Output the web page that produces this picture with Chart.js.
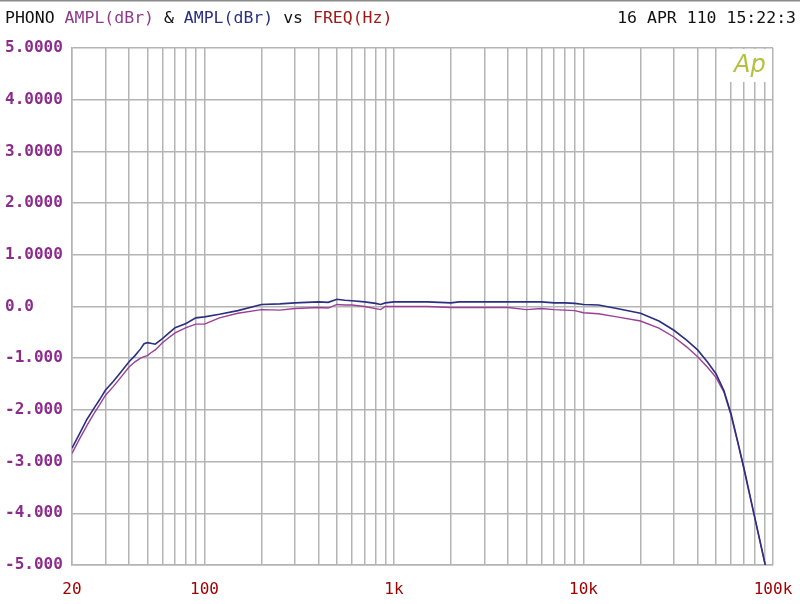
<!DOCTYPE html>
<html>
<head>
<meta charset="utf-8">
<script src="https://cdn.jsdelivr.net/npm/chart.js@4"></script>
<style>
html, body { margin: 0; padding: 0; background: #fff; }
#wrap { width: 800px; height: 604px; }
</style>
</head>
<body>
<div id="wrap"><canvas id="myChart" width="800" height="604"></canvas></div>
<script>
// frequency points (Hz)
var freqs = [20, 22, 24, 26, 28, 30, 33, 36, 40, 43, 46, 48, 50, 52, 55, 60, 65, 70, 80, 90,
  100, 120, 150, 200, 250, 300, 400, 450, 500, 550, 600, 700, 800, 850, 900,
  1000, 1500, 2000, 2200, 3000, 4000, 5000, 6000, 7000, 8000, 9000,
  10000, 12000, 15000, 20000, 25000, 30000, 35000, 40000, 45000, 50000, 55000,
  60000, 65000, 70000, 75000, 80000, 85000, 91000];
// blue trace, dBr
var amplBlue = [-2.74, -2.45, -2.18, -1.98, -1.80, -1.62, -1.45, -1.28, -1.07, -0.95, -0.82, -0.72, -0.70, -0.71, -0.73, -0.62, -0.51, -0.41, -0.33, -0.22,
  -0.20, -0.15, -0.08, 0.04, 0.05, 0.07, 0.09, 0.08, 0.14, 0.12, 0.11, 0.09, 0.06, 0.04, 0.07,
  0.09, 0.09, 0.07, 0.09, 0.09, 0.09, 0.09, 0.09, 0.07, 0.07, 0.06,
  0.04, 0.03, -0.04, -0.13, -0.28, -0.46, -0.65, -0.84, -1.07, -1.30, -1.62,
  -2.07, -2.60, -3.10, -3.60, -4.07, -4.50, -5.00];
// purple trace, dBr
var amplPurple = [-2.84, -2.55, -2.30, -2.08, -1.90, -1.72, -1.55, -1.38, -1.17, -1.07, -1.00, -0.97, -0.95, -0.90, -0.84, -0.70, -0.60, -0.51, -0.41, -0.34,
  -0.34, -0.22, -0.13, -0.06, -0.07, -0.04, -0.02, -0.03, 0.04, 0.03, 0.03, 0.00, -0.04, -0.06, 0.00,
  0.00, 0.00, -0.02, -0.02, -0.02, -0.02, -0.06, -0.04, -0.06, -0.07, -0.08,
  -0.12, -0.14, -0.20, -0.28, -0.42, -0.59, -0.78, -0.97, -1.17, -1.37, -1.65,
  -2.10, -2.62, -3.12, -3.62, -4.08, -4.52, -5.00];

var xLabelValues = [20, 100, 1000, 10000, 100000];
var xLabelText = ["20", "100", "1k", "10k", "100k"];
var yTickValues = [5, 4, 3, 2, 1, 0, -1, -2, -3, -4, -5];
var yTickText = ["5.0000", "4.0000", "3.0000", "2.0000", "1.0000", "0.0", "-1.000", "-2.000", "-3.000", "-4.000", "-5.000"];

// grid lines at every 1..9 x decade
var gridFreqs = [];
for (var d = 10; d <= 10000; d *= 10) {
  for (var m = 1; m <= 9; m++) {
    var f = m * d;
    if (f >= 20) gridFreqs.push(f);
  }
}
gridFreqs.push(100000);

var gridColor = "#b4b4b4";
var mono = '"DejaVu Sans Mono", "Liberation Mono", monospace';

var headerPlugin = {
  id: "header",
  beforeDatasetsDraw: function (chart) {
    var c = chart.ctx;
    var a = chart.chartArea;
    c.save();
    // Ap logo box over the grid
    c.fillStyle = "#fff";
    c.fillRect(a.right - 53, a.top + 1, 52, 33);
    c.fillStyle = "#b5c040";
    c.font = 'italic 24px "DejaVu Sans", sans-serif';
    c.textBaseline = "middle";
    c.textAlign = "left";
    c.fillText("Ap", a.right - 39, a.top + 18);
    c.restore();
  },
  afterDraw: function (chart) {
    var c = chart.ctx;
    c.save();
    c.fillStyle = "#8a8a8a";
    c.fillRect(0, 0, 800, 1.5);
    c.font = "16.5px " + mono;
    c.textBaseline = "middle";
    c.textAlign = "left";
    var parts = [["PHONO ", "#111"], ["AMPL(dBr)", "#8e3a8e"], [" & ", "#111"],
      ["AMPL(dBr)", "#2a2f80"], [" vs ", "#111"], ["FREQ(Hz)", "#a01818"]];
    var x = 5;
    parts.forEach(function (p) {
      c.fillStyle = p[1];
      c.fillText(p[0], x, 19);
      x += c.measureText(p[0]).width;
    });
    c.fillStyle = "#111";
    c.textAlign = "right";
    c.fillText("16 APR 110 15:22:3", 796, 19);
    c.restore();
  }
};

var ctx = document.getElementById("myChart").getContext("2d");
var chart = new Chart(ctx, {
  type: "line",
  data: {
    datasets: [
      {
        label: "AMPL(dBr) blue",
        borderColor: "#2a2f80",
        borderWidth: 1.6,
        pointRadius: 0,
        data: freqs.map(function (f, i) { return { x: f, y: amplBlue[i] }; })
      },
      {
        label: "AMPL(dBr) purple",
        borderColor: "#9a3f96",
        borderWidth: 1.4,
        pointRadius: 0,
        data: freqs.map(function (f, i) { return { x: f, y: amplPurple[i] }; })
      }
    ]
  },
  options: {
    responsive: false,
    animation: false,
    layout: { padding: { left: 5, top: 48, right: 27, bottom: 0 } },
    plugins: { legend: { display: false }, tooltip: { enabled: false } },
    scales: {
      x: {
        type: "logarithmic",
        min: 20,
        max: 100000,
        afterBuildTicks: function (scale) {
          scale.ticks = gridFreqs.map(function (v) { return { value: v }; });
        },
        afterFit: function (scale) {
          scale.height = 39;
          scale.paddingLeft = 0;
          scale.paddingRight = 0;
        },
        grid: { color: gridColor, lineWidth: 1.5, drawTicks: false },
        border: { color: gridColor, width: 1.5 },
        ticks: {
          autoSkip: false,
          maxRotation: 0,
          padding: 15,
          color: "#a00000",
          font: { family: mono, size: 16 },
          callback: function (v) {
            var i = xLabelValues.indexOf(v);
            return i >= 0 ? xLabelText[i] : "";
          }
        }
      },
      y: {
        min: -5,
        max: 5,
        afterFit: function (scale) { scale.width = 67; },
        grid: { color: gridColor, lineWidth: 1.5, drawTicks: false },
        border: { color: gridColor, width: 1.5 },
        ticks: {
          stepSize: 1,
          crossAlign: "far",
          color: "#8b2b8b",
          font: { family: mono, size: 16, weight: "bold" },
          callback: function (v) {
            var i = yTickValues.indexOf(v);
            return i >= 0 ? yTickText[i] : "";
          }
        }
      }
    }
  },
  plugins: [headerPlugin]
});
</script>
</body>
</html>
